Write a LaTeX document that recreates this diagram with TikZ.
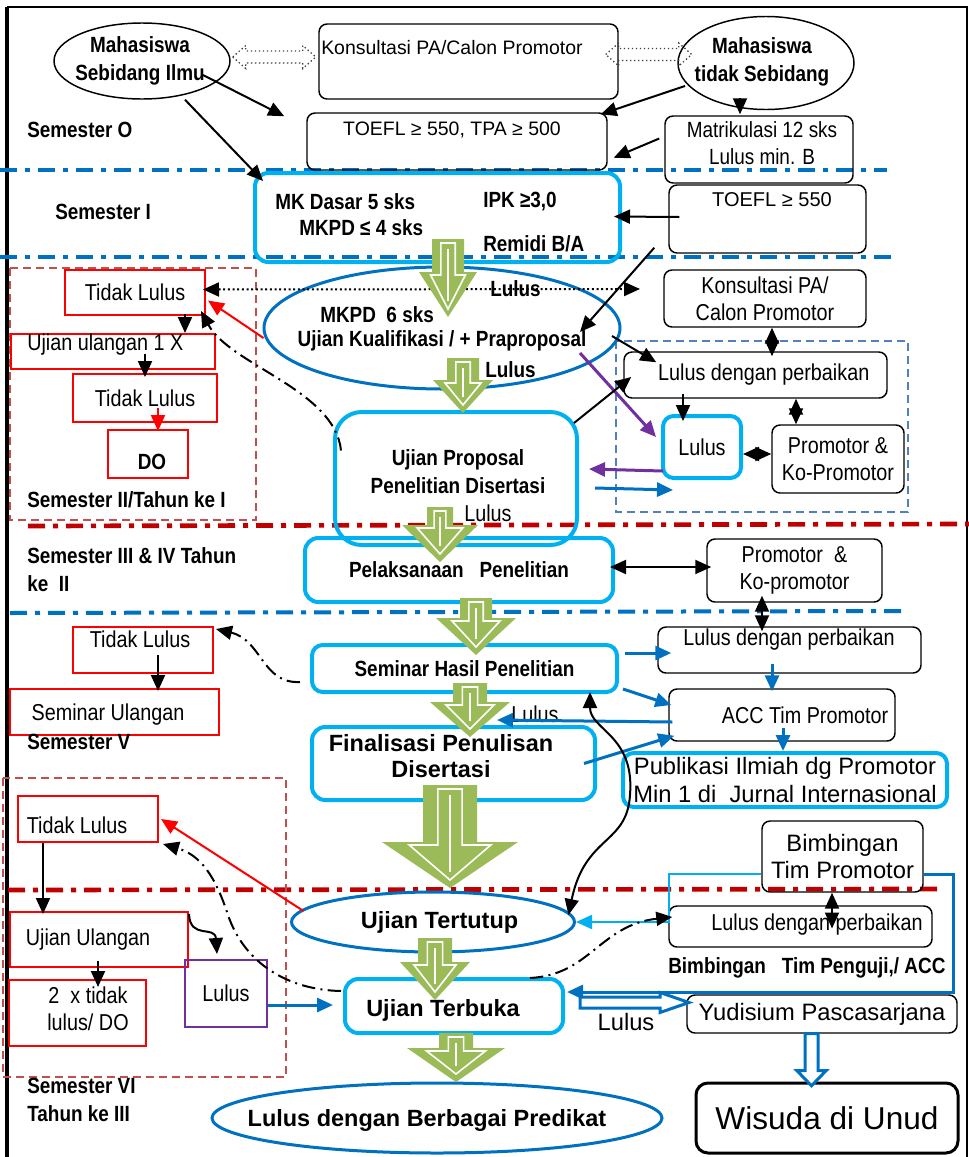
\documentclass[tikz,border=0pt]{standalone}
\usepackage{fontspec}
\setmainfont{Liberation Sans}
\newfontfamily\nar[FakeStretch=0.86]{Liberation Sans}
\usetikzlibrary{arrows.meta}
\usetikzlibrary{calc}
\usetikzlibrary{shapes.geometric}

\definecolor{skyb}{HTML}{00B0F0}
\definecolor{darkb}{HTML}{0070C0}
\definecolor{grn}{HTML}{9BBB59}
\definecolor{dred}{HTML}{C00000}
\definecolor{brn}{HTML}{C0504D}
\definecolor{dashb}{HTML}{4F81BD}
\definecolor{purp}{HTML}{7030A0}

\newcommand{\grnarrow}[6]{%
	\fill[grn] (#1-#5,#2) -- (#1+#5,#2) -- (#1+#5,#3) -- (#1+#6,#3) -- (#1,#4) -- (#1-#6,#3) -- (#1-#5,#3) -- cycle;
	\draw[white,line width=1.2pt] (#1-0.45*#5,#2+4) -- (#1+0.45*#5,#2+4) -- (#1+0.45*#5,#3+3) -- (#1+0.6*#6,#3+3) -- (#1,#4-8) -- (#1-0.6*#6,#3+3) -- (#1-0.45*#5,#3+3) -- cycle;
	\draw[white,line width=1.2pt] (#1,#2+10) -- (#1,#4-16);
}

\begin{document}
\begin{tikzpicture}[x=0.75pt,y=-0.75pt,>={Triangle[length=12pt,width=10.5pt]},
	sz/.style 2 args={minimum width=#1*0.75pt,minimum height=#2*0.75pt},
	bx/.style={draw,rounded corners=6pt,line width=1.1pt,inner sep=0pt},
	rbx/.style={draw=red,line width=1.5pt,inner sep=0pt},
	lbx/.style={draw=skyb,rounded corners=10pt,line width=3pt,inner sep=0pt},
	elk/.style={ellipse,draw,line width=1.1pt,inner sep=0pt},
	elb/.style={ellipse,draw=darkb,line width=2.25pt,inner sep=0pt},
	nb/.style={font=\nar\bfseries\fontsize{16.5}{21}\selectfont,inner sep=0pt,align=left},
	nr/.style={font=\nar\fontsize{17.25}{20}\selectfont,inner sep=0pt,align=center},
	rg/.style={font=\fontsize{14.6}{20}\selectfont,inner sep=0pt},
	rgl/.style={font=\fontsize{17.8}{20.5}\selectfont,inner sep=0pt,align=center},
	bd/.style={font=\bfseries\fontsize{17.6}{19.5}\selectfont,inner sep=0pt,align=center},
	arr/.style={->,line width=1.5pt},
	darr/.style={<->,line width=1.5pt},
	barr/.style={->,draw=darkb,line width=2.25pt},
	parr/.style={->,draw=purp,line width=2.25pt},
	rarr/.style={->,draw=red,line width=1.5pt},
	ddot/.style={line width=1.5pt,dash pattern=on 10pt off 4pt on 1.5pt off 4pt},
	sepb/.style={draw=darkb,line width=3pt,dash pattern=on 12.75pt off 6pt on 3.75pt off 6pt},
	sepr/.style={draw=dred,line width=3.5pt,dash pattern=on 12.75pt off 6pt on 3.75pt off 6pt},
	frm/.style={draw=brn,line width=1.5pt,dash pattern=on 6pt off 3.75pt},
	frmb/.style={draw=dashb,line width=1.5pt,dash pattern=on 6pt off 3.75pt},
	hol/.style={draw=darkb,fill=white,line width=2.25pt},
	holdot/.style={draw=black!75,dotted,line width=1pt}]

	\useasboundingbox (0,0) rectangle (969,1157);

	\draw[line width=3pt] (7,7) -- (7,1157);
	\draw[line width=1.5pt] (7,7) -- (967,7) -- (967,1157);

	\draw[sepb] (0,170) -- (887,170);
	\draw[sepb] (0,257) -- (893,257);
	\draw[sepr] (28,526) -- (969,524);
	\draw[sepb] (10,613) -- (902,611);
	\draw[sepr] (8,890) -- (937,889);

	\draw[frm] (10,268) rectangle (256,520);
	\draw[frm] (3,778) rectangle (286,1077);
	\draw[frmb] (616,341) rectangle (908,512);

	\node[elk,sz={176}{76}] (seb) at (142,61) {};
	\node[nb,align=center] (sebt) at (140,61) {Mahasiswa\\Sebidang Ilmu};
	\node[bx,sz={299}{75}] (konsul) at (468.5,61.5) {};
	\node[rg] (konsult) at (452,48) {Konsultasi PA/Calon Promotor};
	\node[elk,sz={176}{93}] (tsb) at (766,63) {};
	\node[nb,align=center] (tsbt) at (762,62) {Mahasiswa\\tidak Sebidang};
	\node[bx,sz={300}{57}] (toefa) at (457,141.5) {};
	\node[rg] (toefat) at (452,130) {TOEFL ≥ 550, TPA ≥ 500};
	\node[bx,sz={188}{67}] (matrik) at (759,149.5) {};
	\node[nr,font=\nar\fontsize{16.5}{20}\selectfont] (matrikt) at (762,143) {Matrikulasi 12 sks\\Lulus min. B};
	\node[bx,sz={197}{68}] (toefb) at (767.5,219) {};
	\node[rg,font=\fontsize{15}{20}\selectfont] (toefbt) at (772,200) {TOEFL ≥ 550};
	\node[nb,anchor=west] (sem0) at (27,130) {Semester O};

	\node[lbx,sz={365}{89}] (mkd) at (437.5,217.5) {};
	\node[nb,anchor=west] (mkd1) at (275,202) {MK Dasar 5 sks};
	\node[nb,anchor=west] (mkd2) at (299,228) {MKPD ≤ 4 sks};
	\node[nb,anchor=west] (mkd3) at (483,202) {IPK ≥3,0};
	\node[nb,anchor=west] (mkd4) at (483,244) {Remidi B/A};
	\node[nb,anchor=west] (sem1) at (55,212) {Semester I};

	\node[elb,sz={356}{122}] (mkpd) at (442,328) {};
	\node[nb,anchor=west] (mkpd1) at (320,315) {MKPD\ \ 6 sks};
	\node[nb] (mkpd2) at (442,341) {Ujian Kualifikasi / + Praproposal};
	\node[nb,anchor=west] (lulA) at (490,289) {Lulus};
	\node[nb,anchor=west] (lulB) at (485,370) {Lulus};

	\node[rbx,nr,sz={140}{45}] (tl1) at (135,292.5) {Tidak Lulus};
	\node[rbx,sz={204}{35}] (uu1) at (113,351.5) {};
	\node[nr,anchor=west] (uu1t) at (27,345) {Ujian ulangan 1 X};
	\node[rbx,nr,sz={144}{48}] (tl2) at (145,398) {Tidak Lulus};
	\node[rbx,sz={80}{48}] (do) at (148,454) {};
	\node[nb] (dot) at (152,462) {DO};
	\node[nb,anchor=west] (sem2) at (27,500) {Semester II/Tahun ke I};

	\node[bx,nr,sz={202}{57}] (konsul2) at (765,298.5) {Konsultasi PA/\\Calon Promotor};
	\node[bx,nr,sz={263}{46}] (ldp1) at (755.5,375) {\ \ \ Lulus dengan perbaikan};
	\node[lbx,nr,rounded corners=8pt,sz={78}{62}] (lul1) at (702,447) {Lulus};
	\node[bx,nr,sz={132}{68}] (prom1) at (838,459) {Promotor \&\\Ko-Promotor};

	\node[lbx,rounded corners=20pt,sz={242}{133}] (upr) at (456,478.5) {};
	\node[nb,align=center] (uprt) at (458,472) {Ujian Proposal\\Penelitian Disertasi};
	\node[nr] (lulC) at (488,513) {Lulus};

	\node[lbx,nb,sz={308}{64}] (pel) at (459,570) {Pelaksanaan\ \ \ Penelitian};
	\node[bx,nr,sz={175}{63}] (prom2) at (794.5,570.5) {Promotor\ \ \&\\Ko-promotor};
	\node[nb,anchor=west] (sem3) at (27,570) {Semester III \& IV Tahun\\ke\ \ II};

	\node[rbx,sz={140}{46}] (tl3) at (143,650) {};
	\node[nr] (tl3t) at (140,639) {Tidak Lulus};
	\node[rbx,sz={209}{46}] (su) at (114.5,712) {};
	\node[nr] (sut) at (108,715) {Seminar Ulangan};
	\node[nb,anchor=west] (sem5) at (27,742) {Semester V};

	\node[lbx,nb,rounded corners=8pt,sz={305}{47}] (sem) at (464.5,668.5) {Seminar Hasil Penelitian};
	\node[bx,sz={263}{46}] (ldp2) at (789.5,650) {};
	\node[nr] (ldp2t) at (789,640) {Lulus dengan perbaikan};
	\node[bx,sz={226}{52}] (acc) at (782,715) {};
	\node[nr] (acct) at (805,715) {ACC Tim Promotor};
	\node[nr] (lulD) at (535,714) {Lulus};
	\node[lbx,sz={283}{73}] (fin) at (453.5,763.5) {};
	\node[bd] (fint) at (441,756) {Finalisasi Penulisan\\Disertasi};
	\node[lbx,rgl,rounded corners=8pt,sz={324}{54}] (pub) at (785,780) {Publikasi Ilmiah dg Promotor\\Min 1 di\ \ Jurnal Internasional};

	\node[rbx,sz={140}{46}] (tl4) at (88,819) {};
	\node[nr] (tl4t) at (77,825) {Tidak Lulus};
	\node[rbx,sz={178}{55}] (uu2) at (99,939.5) {};
	\node[nr] (uu2t) at (88,940) {Ujian Ulangan};
	\node[rbx,sz={137}{66}] (dx2) at (77.5,1013) {};
	\node[nr] (dx2t) at (88,1009) {2\ \ x tidak\\lulus/ DO};
	\node[nr,draw=purp,line width=1.5pt,sz={82}{67}] (lul3) at (226,993.5) {Lulus};
	\node[nb,anchor=west] (sem6) at (27,1100) {Semester VI\\Tahun ke III};

	\node[elb,bd,sz={283}{60}] (tert) at (433,922) {\ \ Ujian Tertutup};
	\node[lbx,sz={218}{54}] (terb) at (454,1006) {};
	\node[bd] (terbt) at (443,1010) {Ujian Terbuka};
	\node[elb,sz={450}{70}] (pred) at (437,1118) {};
	\node[bd] (predt) at (427,1120) {Lulus dengan Berbagai Predikat};

	\node[bx,rgl,sz={161}{71}] (bimb) at (842.5,856.5) {Bimbingan\\Tim Promotor};
	\node[bx,sz={263}{41}] (ldp4) at (800.5,926.5) {};
	\node[nr] (ldp4t) at (817,925) {Lulus dengan perbaikan};
	\node[nb,anchor=west] (bimt) at (668,968) {Bimbingan\ \ \ Tim Penguji,/ ACC};
	\node[rgl] (lulE) at (626,1022) {Lulus};
	\node[bx,rgl,sz={270}{38}] (yud) at (822,1014) {Yudisium Pascasarjana};
	\node[bx,line width=2.25pt,rounded corners=9pt,font=\fontsize{23.7}{28}\selectfont,sz={262}{70}] (wis) at (827,1118) {Wisuda di Unud};

	\draw[holdot] ($(seb.east)+(2,-4)$) -- ++(13,-11.5) -- ++(0,5.5) -- ++(57,0) -- ++(0,-5.5) -- ++(13,11.5) -- ++(-13,11.5) -- ++(0,-5.5) -- ++(-57,0) -- ++(0,5.5) -- cycle;
	\draw[holdot] ($(konsul.east)+(-13,-7)$) -- ++(13,-11.5) -- ++(0,5.5) -- ++(60,0) -- ++(0,-5.5) -- ++(13,11.5) -- ++(-13,11.5) -- ++(0,-5.5) -- ++(-60,0) -- ++(0,5.5) -- cycle;
	\draw[arr] ($(seb.center)+(61,14)$) -- ($(toefa.north west)+(-22,4)$);
	\draw[arr] ($(seb.south)+(43,0)$) -- ($(mkd.north west)+(10,10)$);
	\draw[arr] ($(tsb.center)+(-81,23)$) -- ($(toefa.north east)+(-7,2)$);
	\draw[arr] ($(tsb.south)+(-26,-12)$) -- ($(matrik.north)+(-19,-1)$);
	\draw[arr] ($(matrik.west)+(-5,-11)$) -- ($(toefa.south east)+(6,-13)$);
	\draw[arr] ($(toefb.west)+(11,-2)$) -- ($(mkd.east)+(-8,-1)$);
	\draw[arr] ($(toefb.south west)+(-14,-6)$) -- ($(mkpd.center)+(138,4)$);

	\coordinate (dotend) at (640,289);
	\draw[<->,dotted,line width=1.5pt] ($(tl1.east)+(-3,-3)$) -- (dotend);
	\draw[rarr] ($(mkpd.west)+(1,10)$) -- ($(tl1.east)+(2,8)$);
	\draw[arr] ($(tl1.south)+(50,-2)$) -- ($(uu1.north)+(72,0)$);
	\draw[arr] ($(uu1.center)+(32,2)$) -- ($(tl2.north)+(0,4)$);
	\draw[rarr] ($(tl2.center)+(13,10)$) -- ($(do.north)+(10,2)$);
	\draw[ddot,->] ($(upr.west)+(8,-28)$) .. controls (335,390) and (230,365) .. ($(tl1.south east)+(-5,-5)$);

	\draw[parr] ($(mkpd.center)+(138,25)$) -- ($(lul1.west)+(-5,-10)$);
	\draw[parr] ($(lul1.south west)+(2,-9)$) -- ($(upr.east)+(10,-9.5)$);
	\draw[barr] ($(upr.east)+(16,9.5)$) -- ($(lul1.south west)+(12,10)$);
	\draw[arr] ($(upr.north east)+(-5,13)$) -- ($(ldp1.west)+(8,2)$);
	\draw[arr] ($(mkpd.center)+(170,8)$) -- ($(ldp1.north west)+(33,11)$);
	\draw[darr] ($(konsul2.south)+(7,0)$) -- ($(ldp1.north)+(16.5,5)$);
	\draw[arr] ($(ldp1.south)+(-72.5,-5)$) -- ($(lul1.north)+(-19,7)$);
	\draw[darr] ($(lul1.east)+(0,7)$) -- ($(prom1.west)+(0,-5)$);
	\draw[darr] ($(ldp1.south)+(40.5,0)$) -- ($(prom1.north)+(-42,0)$);

	\draw[darr] ($(pel.east)+(-5,-3)$) -- ($(prom2.west)+(5,-3.5)$);
	\draw[darr] ($(prom2.south)+(-32.5,-7)$) -- ($(ldp2.north)+(-27.5,5)$);

	\draw[ddot,->] ($(sem.west)+(-10,13.5)$) .. controls (262,684) and (262,640) .. ($(tl3.north east)+(2,3)$);
	\draw[arr] ($(tl3.center)+(15,5)$) -- ($(su.north)+(43.5,3)$);
	\draw[barr] ($(sem.east)+(6,-15.5)$) -- ($(ldp2.west)+(14,3)$);
	\draw[barr] ($(sem.south east)+(4,-5)$) -- ($(acc.west)+(3,-10)$);
	\draw[barr] ($(ldp2.south)+(-17.5,-10)$) -- ($(acc.north)+(-10,3)$);
	\draw[barr] ($(acc.west)+(4,7)$) -- ($(fin.north)+(43.5,-5)$);
	\draw[barr] ($(fin.east)+(-13,0)$) -- ($(acc.south west)+(6,-6)$);
	\draw[barr] ($(acc.south)+(1,-14)$) -- ($(pub.north)+(-2,0)$);
	\draw[darr] ($(sem.south east)+(-29,-2)$) .. controls (590,730) and (635,735) .. (630,795) .. controls (627,845) and (585,835) .. ($(tert.east)+(-7.5,-7)$);

	\draw[rarr] ($(tert.west)+(13.5,-11)$) -- ($(tl4.east)+(2,0)$);
	\draw[ddot,->] ($(terb.west)+(-2,-15)$) .. controls (290,990) and (245,965) .. (228,915) .. controls (215,875) and (200,855) .. ($(tl4.south east)+(4,1)$);
	\draw[arr] ($(tl4.south)+(-45,0)$) -- ($(uu2.north)+(-56,3)$);
	\draw[arr] ($(uu2.south)+(-1,-7)$) -- ($(dx2.north)+(20.5,8)$);
	\draw[arr] ($(uu2.north east)+(0,3)$) .. controls (190,940) and (215,925) .. ($(lul3.north)+(-9,-5)$);
	\draw[barr] ($(lul3.east)+(0,11.5)$) -- ($(terb.west)+(-10,-1)$);
	\draw[->,draw=skyb,line width=1.5pt] ($(bimb.west)+(0,17.5)$) -| ($(ldp4.west)+(1,-4.5)$) -- (tert.east);
	\draw[darr] ($(bimb.south)+(-10.5,0)$) -- ($(ldp4.center)+(31.5,2)$);
	\draw[ddot,->] ($(terb.north)+(76,1)$) .. controls (590,975) and (600,925) .. ($(ldp4.west)+(4,-9.5)$);
	\draw[barr] ($(bimb.east)+(0,17.5)$) -- ++(30,0) |- ($(terb.east)+(2,-14)$);
	\draw[hol] ($(terb.east)+(15,-3.5)$) -- ++(0,-5.5) -- ++(80,0) -- ++(0,-4.5) -- ++(29,10) -- ++(-29,10) -- ++(0,-4.5) -- ++(-80,0) -- cycle;
	\draw[hol] ($(yud.south)+(-17,0)$) -- ++(13,0) -- ++(0,37) -- ++(8,0) -- ++(-14.5,15) -- ++(-14.5,-15) -- ++(8,0) -- cycle;

	\grnarrow{448}{239}{272}{317}{16}{29}
	\grnarrow{463}{358}{380}{413}{16}{30}
	\grnarrow{440}{507}{525}{562}{13}{38}
	\grnarrow{476}{598}{618}{655}{16}{40}
	\grnarrow{470}{683}{702}{737}{17}{40}
	\grnarrow{450}{785}{842}{888}{27}{68}
	\grnarrow{435}{938}{962}{1000}{17}{35}
	\grnarrow{456}{1033}{1048}{1082}{17}{49}

\end{tikzpicture}
\end{document}
